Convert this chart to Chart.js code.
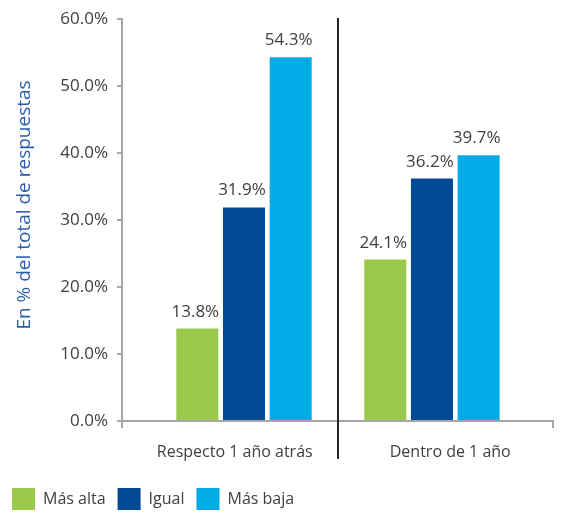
<!DOCTYPE html>
<html>
<head>
<meta charset="utf-8">
<script src="https://cdn.jsdelivr.net/npm/chart.js@4/dist/chart.umd.min.js"></script>
<style>
html,body{margin:0;padding:0;background:#fff;}
#wrap{width:564px;height:514px;position:relative;}
</style>
</head>
<body>
<div id="wrap"><canvas id="c" width="564" height="514"></canvas></div>
<script>
const categories = ['Respecto 1 año atrás', 'Dentro de 1 año'];
const seriesNames = ['Más alta', 'Igual', 'Más baja'];
const masAlta = [13.8, 24.1];
const igual = [31.9, 36.2];
const masBaja = [54.3, 39.7];
const yTickMin = 0, yTickMax = 60, yTickStep = 10;
const yTitle = 'En % del total de respuestas';

const colors = ['#9bc94b', '#004b93', '#00abe6'];
const textColor = '#404040';
const axisColor = '#a6a6a6';

Chart.defaults.font.family = "'Open Sans', sans-serif";
Chart.defaults.color = textColor;

const toPoints = arr => arr.map((v, i) => ({x: i, y: v}));

const valueLabels = {
  id: 'valueLabels',
  afterDatasetsDraw(chart) {
    const ctx = chart.ctx;
    ctx.save();
    ctx.font = "17px 'Open Sans', sans-serif";
    ctx.fillStyle = textColor;
    ctx.textAlign = 'center';
    ctx.textBaseline = 'alphabetic';
    chart.data.datasets.forEach((ds, di) => {
      const meta = chart.getDatasetMeta(di);
      meta.data.forEach((el, i) => {
        const v = ds.data[i].y;
        ctx.fillText(v.toFixed(1) + '%', el.x - 2, el.y - 12);
      });
    });
    ctx.restore();
  }
};

const extras = {
  id: 'extras',
  afterDraw(chart) {
    const ctx = chart.ctx;
    const x2 = chart.scales.x2;
    const sx = Math.round(x2.getPixelForValue(0.5));
    ctx.save();
    ctx.strokeStyle = '#262626';
    ctx.lineWidth = 2;
    ctx.beginPath();
    ctx.moveTo(sx, 18);
    ctx.lineTo(sx, 459);
    ctx.stroke();
    // y axis title
    ctx.translate(25, 205);
    ctx.rotate(-Math.PI / 2);
    ctx.font = "19px 'Open Sans', sans-serif";
    ctx.fillStyle = '#2a5caa';
    ctx.textAlign = 'center';
    ctx.textBaseline = 'middle';
    ctx.fillText(yTitle, 0, 0);
    ctx.restore();
  }
};

new Chart(document.getElementById('c'), {
  type: 'bar',
  data: {
    labels: categories,
    datasets: [
      {label: seriesNames[0], data: toPoints(masAlta), backgroundColor: colors[0], xAxisID: 'x2', yAxisID: 'y'},
      {label: seriesNames[1], data: toPoints(igual), backgroundColor: colors[1], xAxisID: 'x2', yAxisID: 'y'},
      {label: seriesNames[2], data: toPoints(masBaja), backgroundColor: colors[2], xAxisID: 'x2', yAxisID: 'y'}
    ]
  },
  options: {
    responsive: false,
    animation: false,
    layout: {padding: {left: 0, right: 11, top: 19, bottom: -6}},
    datasets: {bar: {categoryPercentage: 0.745, barPercentage: 0.9, borderWidth: 0}},
    plugins: {
      tooltip: {enabled: false},
      legend: {
        position: 'bottom',
        align: 'start',
        labels: {
          boxWidth: 23,
          boxHeight: 22,
          padding: 12,
          color: textColor,
          font: {size: 16}
        }
      }
    },
    scales: {
      x2: {
        type: 'linear',
        display: false,
        offset: false,
        grid: {offset: false},
        min: -0.649,
        max: 1.644,
        afterBuildTicks: s => { s.ticks = [{value: 0}, {value: 1}]; }
      },
      x: {
        type: 'category',
        labels: categories,
        position: 'bottom',
        offset: true,
        afterFit: s => { s.height = 55; },
        border: {display: true, color: axisColor, width: 2},
        grid: {display: true, drawOnChartArea: false, drawTicks: true, offset: true, tickLength: 7, color: axisColor, lineWidth: 2},
        ticks: {color: textColor, font: {size: 16}, padding: 15, labelOffset: 5, maxRotation: 0}
      },
      y: {
        type: 'linear',
        position: 'left',
        min: yTickMin,
        max: yTickMax,
        afterFit: s => { s.width = 122; },
        border: {display: true, color: axisColor, width: 2},
        grid: {display: true, drawOnChartArea: false, drawTicks: true, tickLength: 5, color: axisColor, lineWidth: 2},
        ticks: {stepSize: yTickStep, color: textColor, font: {size: 17}, padding: 9,
          callback: v => Number(v).toFixed(1) + '%'}
      }
    }
  },
  plugins: [valueLabels, extras]
});
</script>
</body>
</html>
